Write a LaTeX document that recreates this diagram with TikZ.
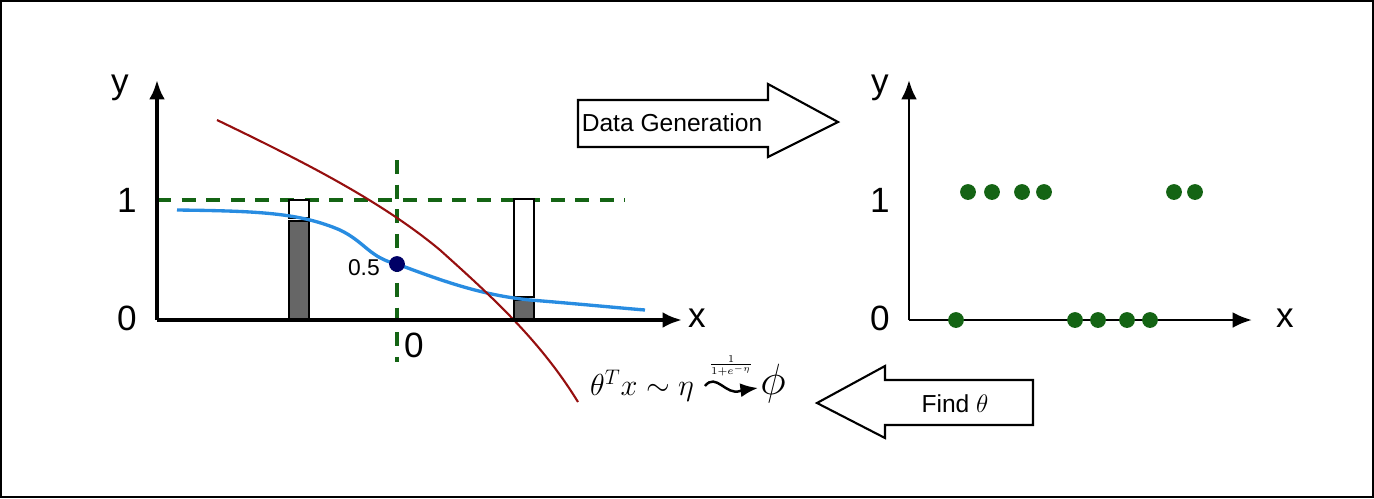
\documentclass[tikz,border=0pt]{standalone}
\usepackage{fontspec}
\setsansfont{Liberation Sans}
\usetikzlibrary{arrows.meta}
\definecolor{dgreen}{RGB}{20,100,20}
\definecolor{cblue}{RGB}{40,140,225}
\definecolor{dred}{RGB}{150,15,15}
\begin{document}
\begin{tikzpicture}[x=0.02cm,y=-0.02cm,
  lbl/.style={font=\sffamily\fontsize{20}{20}\selectfont},
  ax/.style={line width=2.3pt,-{Latex[length=11pt,width=9pt]}},
  gd/.style={draw=dgreen,line width=2.4pt,dash pattern=on 8pt off 6pt},
  dot/.style={circle,fill=dgreen,inner sep=0pt,minimum size=9pt},
  bar/.style={draw=black,line width=1.3pt}]
\useasboundingbox (0,0) rectangle (1374,498);
\draw[line width=1.2pt] (1,1) rectangle (1373,497);
% left axes
\coordinate (o1) at (157,320);
\coordinate (yt1) at (157,80);
\coordinate (xt1) at (682,320);
\draw[gd] (157,200) -- (625,200);
\draw[gd] (397,160) -- (397,362);
\draw[bar,fill=white] (289,200) rectangle (309,218);
\draw[bar,fill=black!60] (289,221) rectangle (309,320);
\draw[bar,fill=white] (514,199) rectangle (534,297);
\draw[bar,fill=black!60] (514,300) rectangle (534,320);
\draw[cblue,line width=1.9pt] (177,210) .. controls (260,211) and (300,213) .. (340,230)
  .. controls (365,242) and (370,258) .. (397,264)
  .. controls (440,280) and (480,295) .. (530,300)
  .. controls (580,304) and (620,308) .. (645,310);
\node[circle,fill=blue!40!black,inner sep=0pt,minimum size=9pt] (p) at (397,264) {};
\node[font=\sffamily\fontsize{13}{13}\selectfont,anchor=east] at (386,268) {0.5};
\draw[dred,line width=1.2pt] (217,120) .. controls (300,160) and (380,200) .. (440,250)
  .. controls (490,295) and (540,340) .. (578,402);
\draw[ax] (o1) -- (yt1);
\draw[ax] (o1) -- (xt1);
\node[lbl] at (120,88) {y};
\node[lbl] at (127,200) {1};
\node[lbl] at (127,318) {0};
\node[lbl] at (697,318) {x};
\node[lbl] at (414,345) {0};
% formula
\node[anchor=west,font=\fontsize{17}{17}\selectfont] (f1) at (584,386) {$\theta^T x \sim \eta$};
\node[font=\fontsize{26}{26}\selectfont] (phi) at (773,384) {$\phi$};
\coordinate (s1) at (705,386);
\coordinate (s2) at (758,388);
\draw[line width=1.4pt,-{Latex[length=10pt,width=8pt]}] (s1) .. controls (716,372) and (726,396) .. (740,391) .. controls (746,389) and (750,389) .. (s2);
\node[font=\fontsize{8}{8}\selectfont] at (731,366) {$\frac{1}{1+e^{-\eta}}$};
% arrows
\draw[line width=1.2pt,fill=white] (578,100) -- (768,100) -- (768,84) -- (838,122) -- (768,157) -- (768,147) -- (578,147) -- cycle;
\node[font=\sffamily\fontsize{14}{14}\selectfont] (dg) at (672,123) {Data Generation};
\draw[line width=1.2pt,fill=white] (1033,380) -- (885,380) -- (885,366) -- (817,403) -- (885,438) -- (885,425) -- (1033,425) -- cycle;
\node[font=\sffamily\fontsize{14}{14}\selectfont] (ft) at (955,404) {Find $\theta$};
% right axes
\coordinate (o2) at (909,320);
\coordinate (yt2) at (909,80);
\coordinate (xt2) at (1252,320);
\draw[ax,line width=1.6pt] (o2) -- (yt2);
\draw[ax,line width=1.6pt] (o2) -- (xt2);
\node[lbl] at (880,88) {y};
\node[lbl] at (880,200) {1};
\node[lbl] at (880,318) {0};
\node[lbl] at (1285,318) {x};
\foreach \x/\n in {968/a,992/b,1022/c,1044/d,1174/e,1195/f} \node[dot] (u\n) at (\x,192) {};
\foreach \x/\n in {956/a,1075/b,1098/c,1127/d,1150/e} \node[dot] (l\n) at (\x,320) {};
\end{tikzpicture}
\end{document}
